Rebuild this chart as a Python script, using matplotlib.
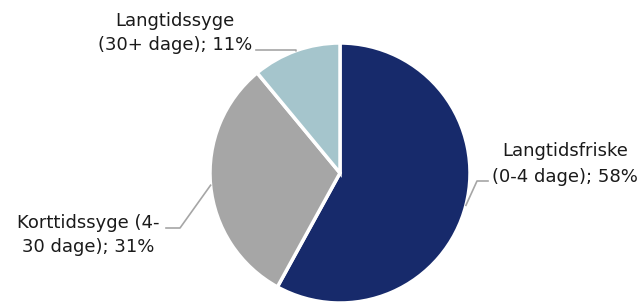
import matplotlib
matplotlib.use("Agg")
import matplotlib.pyplot as plt
import numpy as np

categories = ["Langtidsfriske\n(0-4 dage); 58%", "Korttidssyge (4-\n30 dage); 31%", "Langtidssyge\n(30+ dage); 11%"]
values = [58, 31, 11]
colors = ["#172a6b", "#a6a6a6", "#a5c5cc"]

W, H = 643, 303
fig = plt.figure(figsize=(W/100, H/100), dpi=100)
cx, cy, r = 340, 173, 130
ax = fig.add_axes([(cx - r)/W, (H - cy - r)/H, 2*r/W, 2*r/H])
wedges, _ = ax.pie(values, colors=colors, startangle=90, counterclock=False,
                   radius=1, wedgeprops=dict(edgecolor="white", linewidth=2.5))
ax.set_xlim(-1, 1); ax.set_ylim(-1, 1)
ax.set_aspect("equal")
ax.axis("off")

def px(x, y):
    return ((x - cx)/r, (cy - y)/r)

lc = "#a6a6a6"
txt = "#1a1a1a"
fs = 13
specs = [
    ((477, 181), (488, 181), (565, 164)),
    ((180, 228), (166, 228), (88, 235)),
    ((296, 50), (256, 50), (175, 33)),
]
for w, (elb, end, tpos), lab in zip(wedges, specs, categories):
    th = np.deg2rad((w.theta1 + w.theta2)/2)
    sx, sy = np.cos(th), np.sin(th)
    ex, ey = px(*elb)
    fx, fy = px(*end)
    ax.plot([sx, ex, fx], [sy, ey, fy], color=lc, lw=1.2, clip_on=False)
    tx, ty = px(*tpos)
    ax.text(tx, ty, lab, ha="center", va="center", fontsize=fs, color=txt,
            family="DejaVu Sans", linespacing=1.5, clip_on=False)

fig.savefig("out.png", dpi=100)
